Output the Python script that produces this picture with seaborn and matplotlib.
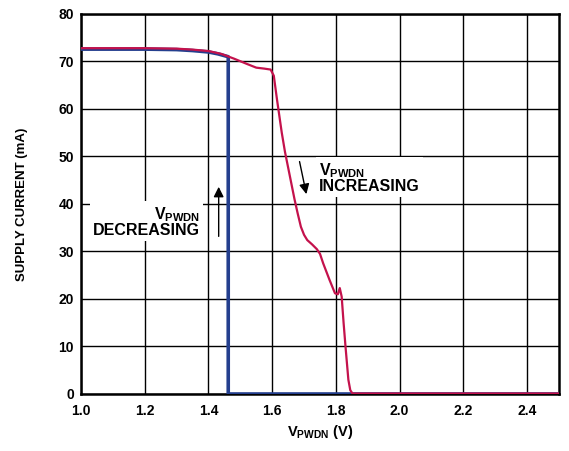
import matplotlib
matplotlib.use("Agg")
import matplotlib.pyplot as plt
import seaborn as sns
import numpy as np

# Data
blue_x = [1.0, 1.1, 1.2, 1.3, 1.35, 1.4, 1.43, 1.462, 1.462, 2.5]
blue_y = [72.6, 72.6, 72.6, 72.5, 72.3, 72.0, 71.6, 71.0, 0.0, 0.0]

red_x = [1.0, 1.1, 1.2, 1.3, 1.35, 1.4, 1.44, 1.48, 1.52, 1.55, 1.575, 1.595, 1.605,
         1.615, 1.63, 1.64, 1.655, 1.67, 1.68, 1.69, 1.70, 1.71, 1.725, 1.74, 1.75,
         1.76, 1.78, 1.797, 1.806, 1.812, 1.818, 1.824, 1.83, 1.839, 1.845, 1.852,
         1.9, 2.5]
red_y = [72.8, 72.8, 72.8, 72.7, 72.5, 72.2, 71.6, 70.6, 69.5, 68.7, 68.5, 68.3, 67.0,
         62.0, 55.0, 51.0, 46.0, 41.0, 38.0, 35.2, 33.5, 32.4, 31.5, 30.5, 29.5,
         27.5, 24.0, 21.2, 21.0, 22.3, 20.5, 15.0, 10.0, 3.0, 0.8, 0.1,
         0.1, 0.1]

x_ticks = [1.0, 1.2, 1.4, 1.6, 1.8, 2.0, 2.2, 2.4]
y_ticks = [0, 10, 20, 30, 40, 50, 60, 70, 80]

sns.set_theme(style="white")
plt.rcParams['font.family'] = ['Liberation Sans', 'DejaVu Sans']
plt.rcParams['font.weight'] = 'bold'
plt.rcParams['text.color'] = 'black'
plt.rcParams['axes.labelcolor'] = 'black'
plt.rcParams['xtick.color'] = 'black'
plt.rcParams['ytick.color'] = 'black'
plt.rcParams['mathtext.fontset'] = 'custom'
plt.rcParams['mathtext.rm'] = 'Liberation Sans:bold'
plt.rcParams['mathtext.it'] = 'Liberation Sans:bold'
plt.rcParams['mathtext.bf'] = 'Liberation Sans:bold'

fig = plt.figure(figsize=(5.69, 4.51), dpi=100)
ax = fig.add_axes([0.1424, 0.1264, 0.84, 0.8426])

sns.lineplot(x=blue_x, y=blue_y, estimator=None, sort=False, ax=ax,
             color='#243f8e', linewidth=2.6, zorder=3)
sns.lineplot(x=red_x, y=red_y, estimator=None, sort=False, ax=ax,
             color='#c4124c', linewidth=1.6, zorder=4)

ax.set_xlim(1.0, 2.5)
ax.set_ylim(0, 80)
ax.set_xticks(x_ticks)
ax.set_yticks(y_ticks)
ax.set_xticklabels([f"{v:.1f}" for v in x_ticks], fontsize=10, fontweight='bold')
ax.set_yticklabels([str(v) for v in y_ticks], fontsize=10, fontweight='bold')
ax.tick_params(axis='both', length=0, colors='black')
ax.tick_params(axis='x', pad=7)
ax.tick_params(axis='y', pad=5)
ax.grid(True, color='black', linewidth=1.0, zorder=1)
ax.set_axisbelow(True)
for s in ax.spines.values():
    s.set_color('black')
    s.set_linewidth(1.8)

ax.set_xlabel(r'V$_{\mathrm{PWDN}}$ (V)', fontsize=10.5, fontweight='bold', labelpad=4)
ax.set_ylabel('SUPPLY CURRENT (mA)', fontsize=9.5, fontweight='bold', labelpad=22)

bbox = dict(facecolor='white', edgecolor='none', pad=2)
ax.text(1.373, 36.3, 'V$_{\\mathrm{PWDN}}$\nDECREASING', ha='right', va='center',
        fontsize=11.5, fontweight='bold', linespacing=0.95, bbox=bbox, zorder=2,
        multialignment='right')
ax.text(1.747, 45.5, 'V$_{\\mathrm{PWDN}}$\nINCREASING', ha='left', va='center',
        fontsize=11.5, fontweight='bold', linespacing=0.95, bbox=bbox, zorder=2,
        multialignment='left')

ap = dict(arrowstyle='-|>', lw=1.0, color='black', mutation_scale=15)
ax.annotate('', xy=(1.432, 44.2), xytext=(1.432, 32.6), arrowprops=ap, zorder=5)
ax.annotate('', xy=(1.709, 41.5), xytext=(1.684, 49.5), arrowprops=ap, zorder=5)

fig.savefig('out.png', dpi=100)
